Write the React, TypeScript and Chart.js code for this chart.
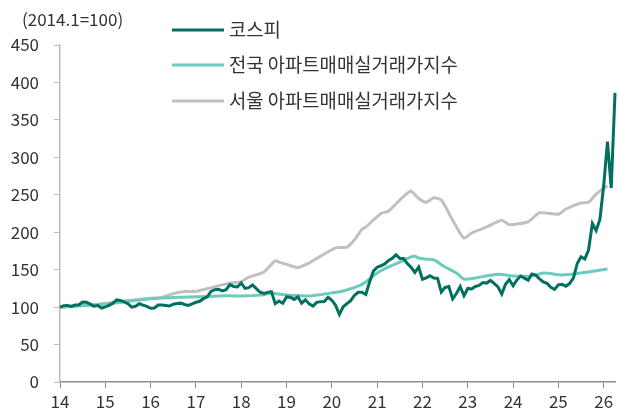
import React, { useEffect, useRef } from "react";
import { Chart, registerables } from "chart.js";

Chart.register(...registerables);

const FONT = "'Noto Sans CJK KR', 'Noto Sans', sans-serif";

const legendLabels = ["코스피", "전국 아파트매매실거래가지수", "서울 아파트매매실거래가지수"];
const unitLabel = "(2014.1=100)";
const colors = ["#02705f", "#6ccbbc", "#c0c0c0"];

const startYear = 2014;
const yearTicks = [14, 15, 16, 17, 18, 19, 20, 21, 22, 23, 24, 25, 26];

// KOSPI, monthly from 2014.1 (2014.1 = 100)
const kospiValues = [
  100, 102, 102.3, 101, 102.8, 103.2, 106.9, 106.5, 104, 101.2, 102, 98.7,
  100.4, 102.3, 105.2, 109.6, 108.9, 106.9, 104.6, 100, 101.1, 104.5, 102.6, 101,
  98.5, 98.8, 102.8, 102.7, 102.2, 101.5, 103.9, 104.8, 105.3, 103.5, 102.2, 104.4,
  106.5, 107.8, 111.3, 113.6, 120.9, 123.2, 123.8, 121.7, 123.3, 130, 127.6, 127.1,
  132.2, 125, 126, 129.6, 124.8, 119.8, 118.2, 119.7, 120.7, 104.6, 108, 105.2,
  113.6, 113.1, 110.3, 113.6, 105.2, 109.8, 104.3, 101.4, 106.3, 107.3, 107.6, 113.2,
  109.2, 102.4, 90.4, 100.4, 104.6, 108.6, 115.9, 119.8, 119.9, 116.8, 133.5, 148,
  153.3, 155.2, 157.7, 162.2, 165, 169.9, 165, 164.8, 158.1, 153.1, 146.3, 153.4,
  137.2, 139, 142, 138.8, 138.4, 120.2, 126.3, 127.4, 111, 118.1, 127.4, 115.2,
  124.9, 124.3, 127.6, 128.9, 132.8, 132.1, 135.6, 131.7, 127, 117.4, 130.6, 136.8,
  128.6, 136.1, 141.5, 138.7, 135.9, 144.2, 142.7, 137.8, 133.6, 131.7, 126.5, 123.6,
  129.7, 130.4, 127.8, 131.7, 139, 158.3, 167.2, 164.1, 176.5, 211.6, 202.3, 217,
  262, 321, 259, 386,
];

// 전국 아파트매매실거래가지수 (month offset from 2014.1, value)
const nationalMonths = [0, 12, 24, 34, 42, 48, 53, 56, 58, 61, 66, 68, 72, 75, 79, 81, 84, 87, 90, 93, 94, 95, 97, 99, 102, 105, 107, 110, 116, 120, 125, 128, 133, 138, 145];
const nationalValues = [100, 104, 111, 113.5, 115, 115, 116, 118.5, 117.5, 116, 115, 116, 119, 121.5, 128, 133.5, 145.5, 153.5, 160, 167, 168, 165.5, 164, 163, 153.5, 145.5, 137.5, 139, 144, 141.5, 141.5, 145.5, 143, 145.5, 151];

// 서울 아파트매매실거래가지수
const seoulMonths = [0, 6, 12, 18, 24, 27, 30, 33, 36, 40, 45, 48, 50, 52, 54, 56, 57, 58, 60, 63, 66, 68, 73, 76, 78, 80, 81, 85, 87, 90, 92, 93, 95, 97, 99, 101, 104, 107, 109, 113, 117, 119, 124, 127, 132, 134, 138, 140, 142, 145];
const seoulValues = [100, 102, 105, 109, 112, 113, 118, 121, 121, 126, 132, 134, 140, 143, 147, 157, 162, 160, 157, 153, 159, 165, 179, 180, 190, 204, 207, 225, 228, 243, 252, 255, 245, 240, 246, 243, 216, 192, 199, 207, 216, 210, 214, 226, 224, 231, 239, 240, 251, 262];

const toPoints = (months: number[], values: number[]) =>
  values.map((v, i) => ({ x: startYear + months[i] / 12, y: v }));

const kospiMonths = kospiValues.map((_, i) => i);

const overlayPlugin = {
  id: "overlay",
  afterDraw(chart: any) {
    const ctx = chart.ctx as CanvasRenderingContext2D;
    ctx.save();
    ctx.font = `17px ${FONT}`;
    ctx.fillStyle = "#333";
    ctx.textBaseline = "middle";
    ctx.textAlign = "left";
    ctx.fillText(unitLabel, 22, 20);
    ctx.font = `18.8px ${FONT}`;
    const rowsY = [30, 65, 101];
    legendLabels.forEach((lab, i) => {
      ctx.strokeStyle = colors[i];
      ctx.lineWidth = 3;
      ctx.beginPath();
      ctx.moveTo(172, rowsY[i]);
      ctx.lineTo(224, rowsY[i]);
      ctx.stroke();
      ctx.fillStyle = "#333";
      ctx.fillText(lab, 229, rowsY[i]);
    });
    ctx.restore();
  },
};

export default function App() {
  const ref = useRef<HTMLCanvasElement>(null);
  useEffect(() => {
    if (!ref.current) return;
    const chart = new Chart(ref.current, {
      type: "line",
      data: {
        datasets: [
          {
            label: legendLabels[0],
            data: toPoints(kospiMonths, kospiValues),
            borderColor: colors[0],
            borderWidth: 3,
            pointRadius: 0,
            tension: 0,
            clip: false as any,
          },
          {
            label: legendLabels[1],
            data: toPoints(nationalMonths, nationalValues),
            borderColor: colors[1],
            borderWidth: 3,
            pointRadius: 0,
            tension: 0.3,
          },
          {
            label: legendLabels[2],
            data: toPoints(seoulMonths, seoulValues),
            borderColor: colors[2],
            borderWidth: 3,
            pointRadius: 0,
            tension: 0.2,
          },
        ],
      },
      options: {
        responsive: false,
        animation: false,
        layout: { padding: { top: 45, right: 3, left: 0, bottom: 0 } },
        plugins: { legend: { display: false }, tooltip: { enabled: false } },
        scales: {
          x: {
            type: "linear",
            min: 2014,
            max: 2014 + 147 / 12,
            afterFit: (s: any) => {
              s.height = 34;
            },
            border: { color: "#8c8c8c", width: 1.5 },
            grid: { drawOnChartArea: false, tickLength: 6, color: "#8c8c8c" },
            ticks: {
              stepSize: 1,
              includeBounds: false,
              autoSkip: false,
              maxRotation: 0,
              padding: 3,
              color: "#333",
              font: { size: 17, family: FONT },
              callback: (v: any) => {
                const yy = Math.round(Number(v)) - 2000;
                return yearTicks.includes(yy) ? String(yy) : "";
              },
            },
          },
          y: {
            min: 0,
            max: 450,
            afterFit: (s: any) => {
              s.width = 60;
            },
            border: { color: "#bbbbbb", width: 1.5 },
            grid: { drawOnChartArea: false, tickLength: 6, color: "#bbbbbb" },
            ticks: {
              stepSize: 50,
              padding: 15,
              color: "#333",
              font: { size: 17, family: FONT },
            },
          },
        },
      },
      plugins: [overlayPlugin],
    });
    return () => chart.destroy();
  }, []);
  return (
    <div style={{ position: "fixed", left: 0, top: 0, width: 618, height: 416, background: "#fff" }}>
      <canvas ref={ref} width={618} height={416} />
    </div>
  );
}
